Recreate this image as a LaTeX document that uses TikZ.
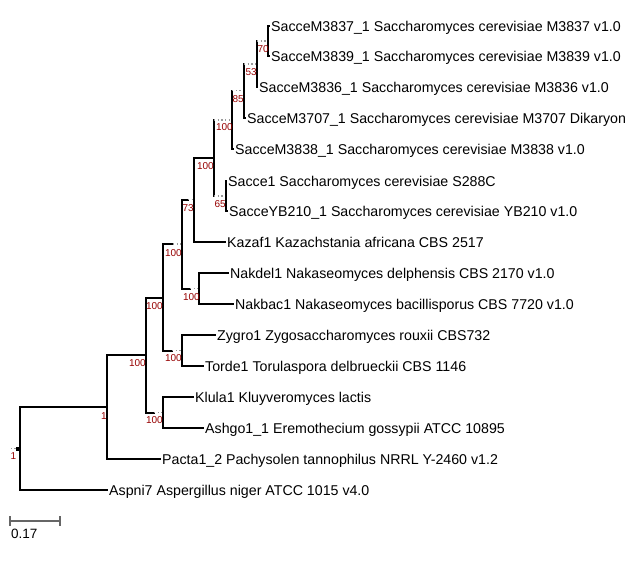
\documentclass[tikz,border=0pt]{standalone}
\usepackage{fontspec}
\setmainfont{Liberation Sans}
\usepackage{tikz}
\definecolor{bootred}{RGB}{150,0,0}

\begin{document}
\begin{tikzpicture}[x=1pt,y=-1pt]
		\tikzstyle{leaf}=[anchor=west,inner sep=2pt,font=\fontsize{14.2}{16}\selectfont,text height=10pt,text depth=0pt]
		\tikzstyle{branch}=[black,line width=2pt,line cap=rect]
		\tikzstyle{nobr}=[black!40,line width=1.3pt,dash pattern=on 1.3pt off 2.4pt]
		\tikzstyle{boot}=[anchor=north east,inner sep=0pt,color=bootred,font=\fontsize{10}{12}\selectfont]
		\tikzstyle{scalebar}=[black!60,line width=1.8pt]
		\useasboundingbox (0,0) rectangle (635,566);
		% leaves
		\node [leaf] at (269,26) (l1) {SacceM3837\_1 Saccharomyces cerevisiae M3837 v1.0};
		\node [leaf] at (269,56) (l2) {SacceM3839\_1 Saccharomyces cerevisiae M3839 v1.0};
		\node [leaf] at (257,87) (l3) {SacceM3836\_1 Saccharomyces cerevisiae M3836 v1.0};
		\node [leaf] at (245,118) (l4) {SacceM3707\_1 Saccharomyces cerevisiae M3707 Dikaryon};
		\node [leaf] at (233,149) (l5) {SacceM3838\_1 Saccharomyces cerevisiae M3838 v1.0};
		\node [leaf] at (226,181) (l6) {Sacce1 Saccharomyces cerevisiae S288C};
		\node [leaf] at (227,211) (l7) {SacceYB210\_1 Saccharomyces cerevisiae YB210 v1.0};
		\node [leaf] at (225,242) (l8) {Kazaf1 Kazachstania africana CBS 2517};
		\node [leaf] at (228,273) (l9) {Nakdel1 Nakaseomyces delphensis CBS 2170 v1.0};
		\node [leaf] at (233,304) (l10) {Nakbac1 Nakaseomyces bacillisporus CBS 7720 v1.0};
		\node [leaf] at (215,335) (l11) {Zygro1 Zygosaccharomyces rouxii CBS732};
		\node [leaf] at (203,366) (l12) {Torde1 Torulaspora delbrueckii CBS 1146};
		\node [leaf] at (193,397) (l13) {Klula1 Kluyveromyces lactis};
		\node [leaf] at (203,428) (l14) {Ashgo1\_1 Eremothecium gossypii ATCC 10895};
		\node [leaf] at (160,459) (l15) {Pacta1\_2 Pachysolen tannophilus NRRL Y-2460 v1.2};
		\node [leaf] at (107,490) (l16) {Aspni7 Aspergillus niger ATCC 1015 v4.0};
		% inner nodes
		\coordinate (A) at (268,41);
		\coordinate (B) at (257,64);
		\coordinate (C) at (244,90.5);
		\coordinate (D) at (232,120);
		\coordinate (S) at (226,196);
		\coordinate (E) at (214,158);
		\coordinate (F) at (194,199.5);
		\coordinate (H) at (199,288.5);
		\coordinate (G) at (182,244);
		\coordinate (J) at (182,350.5);
		\coordinate (I) at (163,297.5);
		\coordinate (L) at (163,412.5);
		\coordinate (K) at (146,355);
		\coordinate (M) at (107,407);
		\coordinate (N) at (20,448.5);
		\coordinate (R) at (15.5,448.5);
		\coordinate (R0) at (9,448.5);
		% where the solid part stops
		\coordinate (Ls) at (154,412.5);
		\coordinate (Gs) at (173,244);
		\coordinate (Js) at (172,350.5);
		\coordinate (Fs) at (188,199.5);
		\coordinate (Hs) at (190,288.5);
		% branches
		\draw [branch] (N) |- (M);
		\draw [branch] (N) |- (l16.west);
		\draw [branch,line width=4pt,line cap=butt] (N) -- (R);
		\draw [nobr] (R) -- (R0);
		\draw [branch] (M) |- (K);
		\draw [branch] (M) |- (l15.west);
		\draw [branch] (K) |- (I);
		\draw [branch] (K) |- (Ls);
		\draw [nobr] (Ls) -- (L);
		\draw [branch] (L) |- (l13.west);
		\draw [branch] (L) |- (l14.west);
		\draw [branch] (I) |- (Gs);
		\draw [nobr] (Gs) -- (G);
		\draw [branch] (I) |- (Js);
		\draw [nobr] (Js) -- (J);
		\draw [branch] (J) |- (l11.west);
		\draw [branch] (J) |- (l12.west);
		\draw [branch] (G) |- (Fs);
		\draw [nobr] (Fs) -- (F);
		\draw [branch] (G) |- (Hs);
		\draw [nobr] (Hs) -- (H);
		\draw [branch] (H) |- (l9.west);
		\draw [branch] (H) |- (l10.west);
		\draw [branch] (F) |- (E);
		\draw [branch] (F) |- (l8.west);
		\draw [branch] (E) -- (E |- D);
		\draw [nobr] (E |- D) -- (D);
		\draw [branch] (E) -- (E |- S);
		\draw [nobr] (E |- S) -- (S);
		\draw [branch] (S) |- (l6.west);
		\draw [branch] (S) |- (l7.west);
		\draw [branch] (D) -- (D |- C);
		\draw [nobr] (D |- C) -- (C);
		\draw [branch] (D) |- (l5.west);
		\draw [branch] (C) -- (C |- B);
		\draw [nobr] (C |- B) -- (B);
		\draw [branch] (C) |- (l4.west);
		\draw [branch] (B) -- (B |- A);
		\draw [nobr] (B |- A) -- (A);
		\draw [branch] (B) |- (l3.west);
		\draw [branch] (A) |- (l1.west);
		\draw [branch] (A) |- (l2.west);
		% support values
		\node [boot] at ([shift={(1,4)}]A) (bA) {70};
		\node [boot] at ([shift={(0,4)}]B) (bB) {53};
		\node [boot] at ([shift={(0,5)}]C) (bC) {85};
		\node [boot] at ([shift={(1,3)}]D) (bD) {100};
		\node [boot] at ([shift={(0,4)}]E) (bE) {100};
		\node [boot] at ([shift={(0,4)}]S) (bS) {65};
		\node [boot] at ([shift={(0,5)}]F) (bF) {73};
		\node [boot] at ([shift={(0,5)}]G) (bG) {100};
		\node [boot] at ([shift={(1,5)}]H) (bH) {100};
		\node [boot] at ([shift={(0,5)}]I) (bI) {100};
		\node [boot] at ([shift={(0,4)}]J) (bJ) {100};
		\node [boot] at ([shift={(0,4)}]K) (bK) {100};
		\node [boot] at ([shift={(0,4)}]L) (bL) {100};
		\node [boot] at ([shift={(0,5)}]M) (bM) {1};
		\node [boot] at ([shift={(1,4)}]R) (bR) {1};
		% scale bar
		\coordinate (sb1) at (10,521);
		\coordinate (sb2) at (60,521);
		\draw [scalebar] (sb1) -- (sb2);
		\draw [scalebar,line width=1.2pt] ([shift={(0,-5)}]sb1) -- ([shift={(0,5)}]sb1);
		\draw [scalebar,line width=1.2pt] ([shift={(0,-5)}]sb2) -- ([shift={(0,5)}]sb2);
		\node [anchor=north west,inner sep=0pt,font=\fontsize{13.5}{16}\selectfont] at ([shift={(1,8)}]sb1) (sbl) {0.17};
	\end{tikzpicture}
\end{document}
